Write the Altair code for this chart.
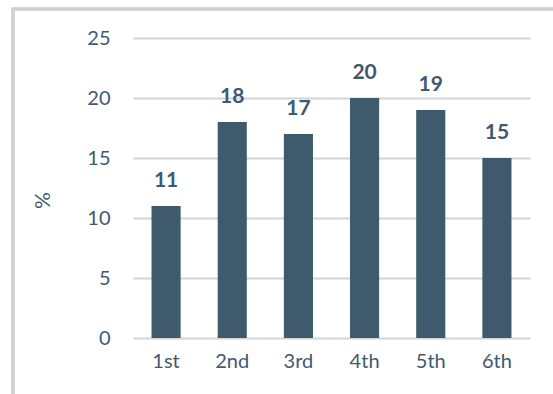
import altair as alt
import pandas as pd

# Share of respondents by position (%)
positions = ["1st", "2nd", "3rd", "4th", "5th", "6th"]
shares = [11, 18, 17, 20, 19, 15]
y_ticks = [0, 5, 10, 15, 20, 25]

BAR = "#3E5A6C"
TEXT = "#3F5A6E"
GRID = "#D4D4D4"
FONT = "Lato"

df = pd.DataFrame({"position": positions, "share": shares})

x_enc = alt.X(
    "position:N",
    sort=positions,
    scale=alt.Scale(paddingInner=0.56, paddingOuter=0.28),
    axis=alt.Axis(
        title=None, labelAngle=0, domain=False, ticks=False,
        labelPadding=13, labelFontSize=20, labelColor=TEXT, labelFont=FONT,
    ),
)
y_enc = alt.Y(
    "share:Q",
    scale=alt.Scale(domain=[0, 25]),
    axis=alt.Axis(
        title="%", titleFontSize=21, titleColor=TEXT, titleFont=FONT,
        titleFontWeight="normal", titleAngle=270,
        titleX=-90, titleY=162, titleAlign="center", titleBaseline="middle",
        values=y_ticks, domain=False, ticks=False,
        labelPadding=23, labelFontSize=20, labelColor=TEXT, labelFont=FONT,
        grid=True, gridColor=GRID, gridWidth=1.8,
    ),
)

base = alt.Chart(df)

bars = base.mark_bar(color=BAR).encode(x=x_enc, y=y_enc)

labels = base.mark_text(
    dy=-19, baseline="alphabetic", fontSize=21, fontWeight="bold",
    color=TEXT, font=FONT,
).encode(x=x_enc, y=y_enc, text="share:Q")

# Light frame around the chart area
frame = base.mark_rect(fill=None, stroke="#D0D0D0", strokeWidth=2.5).encode(
    x=alt.value(-120), x2=alt.value(700), y=alt.value(-29), y2=alt.value(600)
)

chart = (
    alt.layer(frame, bars, labels)
    .properties(
        width=397, height=300,
        autosize=alt.AutoSizeParams(type="none"),
        padding={"left": 133, "top": 38, "right": 23, "bottom": 56},
        background="white",
    )
    .configure_view(stroke=None)
)

chart.save("out.html", embed_options={"renderer": "svg", "actions": False})
